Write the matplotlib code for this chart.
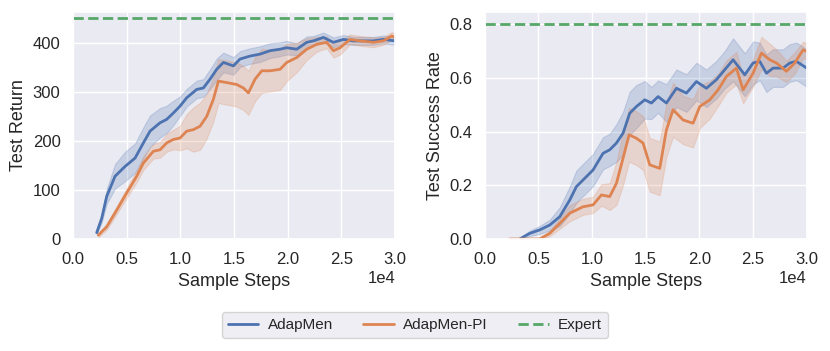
import numpy as np
import matplotlib.pyplot as plt
import seaborn as sns

# left panel: test return
ret_x_men = [2205, 2670, 3137, 3913, 4845, 5776, 6553, 7174, 8106, 8727, 9348, 9969, 10590, 11522,
             12143, 12764, 13385, 14006, 14938, 15559, 16490, 17422, 18354, 19286, 19907, 20838,
             21770, 22391, 23323, 24255, 25186, 26118, 27050, 27981, 28913, 30000]
ret_men = [13, 42, 87, 128, 148, 165, 196, 220, 237, 244, 257, 271, 288, 305,
           308, 326, 346, 360, 353, 367, 373, 377, 384, 387, 390, 387,
           401, 404, 411, 401, 407, 404, 404, 404, 407, 404]
ret_men_sd = [4, 8, 15, 25, 30, 30, 32, 32, 30, 28, 25, 20, 18, 18,
              18, 20, 22, 20, 18, 16, 16, 16, 15, 14, 14, 12,
              12, 10, 10, 10, 9, 8, 8, 8, 8, 8]

ret_x_pi = [2360, 3137, 4068, 5000, 5932, 6553, 7484, 8106, 8727, 9348, 9969, 10590, 11211, 11832,
            12453, 13075, 13540, 14317, 15248, 15870, 16335, 16957, 17578, 18354, 19286, 19907,
            20838, 21770, 22702, 23634, 24255, 24876, 25807, 26739, 27981, 28913, 29689, 30000]
ret_pi = [8, 25, 59, 94, 128, 155, 179, 182, 196, 203, 206, 220, 223, 230,
          250, 285, 322, 319, 315, 308, 298, 326, 343, 343, 346, 360,
          370, 387, 397, 401, 384, 390, 407, 404, 401, 404, 414, 411]
ret_pi_sd = [4, 6, 8, 10, 12, 14, 15, 16, 18, 20, 25, 35, 45, 48,
             45, 45, 45, 45, 45, 45, 45, 45, 45, 42, 42, 38,
             30, 22, 15, 12, 14, 14, 10, 10, 10, 8, 8, 8]

# right panel: test success rate
sr_x_men = [3261, 4193, 5124, 6056, 6988, 7919, 8540, 9317, 10093, 11025, 11646, 12267, 12888, 13509,
            14130, 14907, 15528, 16149, 16925, 17857, 18789, 19720, 20652, 21584, 22360, 23137,
            24224, 25000, 25621, 26242, 26863, 27795, 28416, 29037, 30000]
sr_men = [0.0, 0.021, 0.034, 0.052, 0.083, 0.145, 0.195, 0.226, 0.257, 0.319, 0.332, 0.357, 0.394, 0.468,
          0.493, 0.518, 0.506, 0.530, 0.506, 0.561, 0.543, 0.586, 0.561, 0.593, 0.630, 0.667,
          0.611, 0.655, 0.661, 0.617, 0.636, 0.636, 0.655, 0.661, 0.636]
sr_men_sd = [0.005, 0.01, 0.015, 0.02, 0.035, 0.05, 0.06, 0.06, 0.06, 0.06, 0.06, 0.07, 0.08, 0.08,
             0.08, 0.07, 0.06, 0.06, 0.07, 0.07, 0.07, 0.07, 0.07, 0.07, 0.07, 0.08,
             0.08, 0.08, 0.07, 0.07, 0.07, 0.07, 0.07, 0.07, 0.07]

sr_x_pi = [2330, 3261, 5124, 6056, 6988, 7919, 9161, 10093, 10870, 11646, 12267, 12888, 13447, 14130,
           14752, 15373, 16304, 16925, 17547, 18478, 19410, 20031, 20963, 21739, 22516, 23447,
           24068, 25000, 25776, 26553, 27174, 28106, 28882, 29658, 30000]
sr_pi = [0.0, 0.0, 0.0, 0.021, 0.058, 0.096, 0.120, 0.127, 0.164, 0.158, 0.207, 0.301, 0.388, 0.375,
         0.357, 0.276, 0.263, 0.406, 0.481, 0.443, 0.431, 0.493, 0.518, 0.555, 0.605, 0.636,
         0.555, 0.617, 0.692, 0.667, 0.655, 0.624, 0.655, 0.704, 0.698]
sr_pi_sd = [0.0, 0.0, 0.005, 0.01, 0.02, 0.03, 0.03, 0.03, 0.04, 0.05, 0.08, 0.1, 0.1, 0.1,
            0.1, 0.1, 0.1, 0.1, 0.1, 0.09, 0.09, 0.08, 0.07, 0.06, 0.06, 0.06,
            0.05, 0.05, 0.06, 0.06, 0.05, 0.04, 0.04, 0.03, 0.03]

expert_return = 450
expert_sr = 0.8

sns.set_theme(style='darkgrid')
plt.rcParams['font.family'] = ['Liberation Sans', 'DejaVu Sans']

blue, orange, green = sns.color_palette('deep')[:3]

fig = plt.figure(figsize=(8.3, 3.51), dpi=100)
ax1 = fig.add_axes([0.088, 0.319, 0.388, 0.647])
ax2 = fig.add_axes([0.584, 0.319, 0.388, 0.647])


def draw(ax, x1, y1, s1, x2, y2, s2, expert):
    y1, s1 = np.array(y1), np.array(s1)
    y2, s2 = np.array(y2), np.array(s2)
    ax.fill_between(x1, y1 - s1, y1 + s1, color=blue, alpha=0.22, lw=0.8)
    ax.fill_between(x2, y2 - s2, y2 + s2, color=orange, alpha=0.22, lw=0.8)
    l1, = ax.plot(x1, y1, color=blue, lw=2, label='AdapMen')
    l2, = ax.plot(x2, y2, color=orange, lw=2, label='AdapMen-PI')
    l3 = ax.axhline(expert, color=green, lw=2, ls='--', label='Expert')
    ax.set_xlim(0, 30000)
    ax.set_xticks(np.arange(0, 30001, 5000))
    ax.ticklabel_format(axis='x', style='sci', scilimits=(4, 4))
    ax.xaxis.get_offset_text().set_fontsize(12)
    ax.set_xlabel('Sample Steps', fontsize=13, labelpad=5)
    ax.tick_params(labelsize=12, pad=3)
    return [l1, l2, l3]


handles = draw(ax1, ret_x_men, ret_men, ret_men_sd, ret_x_pi, ret_pi, ret_pi_sd, expert_return)
ax1.set_ylim(0, 463)
ax1.set_yticks([0, 100, 200, 300, 400])
ax1.set_ylabel('Test Return', fontsize=13)

draw(ax2, sr_x_men, sr_men, sr_men_sd, sr_x_pi, sr_pi, sr_pi_sd, expert_sr)
ax2.set_ylim(0, 0.845)
ax2.set_yticks([0.0, 0.2, 0.4, 0.6, 0.8])
ax2.set_ylabel('Test Success Rate', fontsize=13)

fig.legend(handles=handles, loc='center', bbox_to_anchor=(0.5, 0.074), ncol=3,
           fontsize=11, columnspacing=2.0, handlelength=2.0, handletextpad=0.6,
           frameon=True)

plt.savefig('out.png', dpi=100)
